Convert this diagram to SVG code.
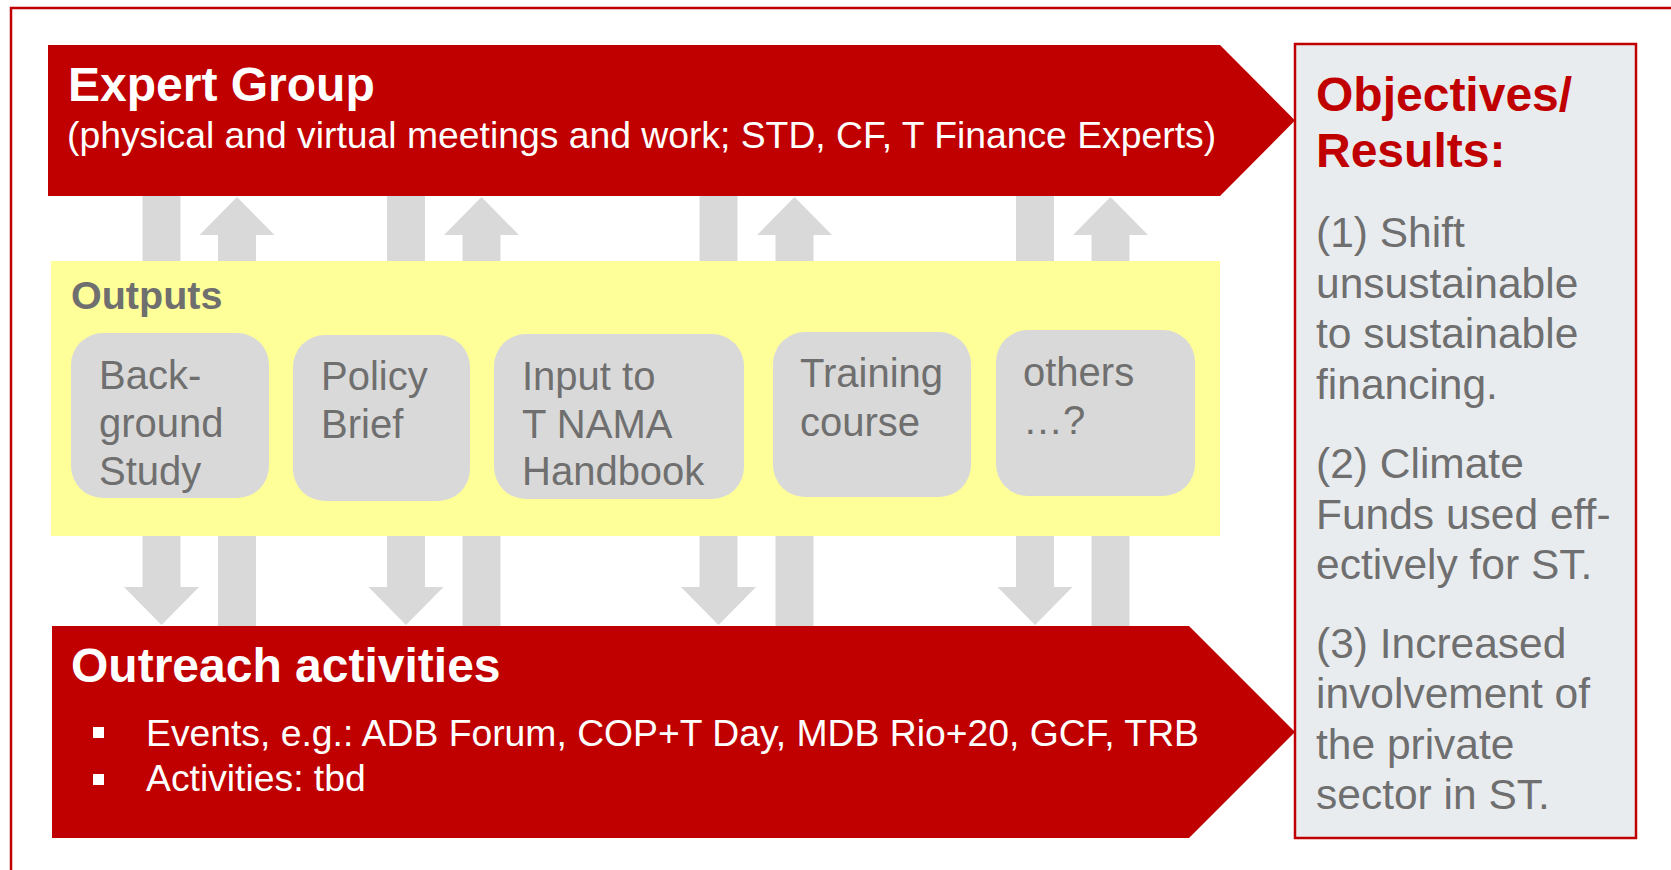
<svg xmlns="http://www.w3.org/2000/svg" width="1671" height="870" viewBox="0 0 1671 870">
<style>
.banner{fill:#C00000;}
.flow{fill:#D9D9D9;}
.card{fill:#D9D9D9;}
.wt{font-family:"Liberation Sans",Arial,sans-serif;fill:#FFFFFF;}
.gt{font-family:"Liberation Sans",Arial,sans-serif;fill:#6F6F6F;}
.rt{font-family:"Liberation Sans",Arial,sans-serif;fill:#C00000;font-weight:bold;}
.h{font-size:48px;font-weight:bold;}
.sub{font-size:37.3px;}
.box{font-size:40px;}
.obj{font-size:42.5px;}
</style>
<rect x="0" y="0" width="1671" height="870" fill="#FFFFFF"/>
<rect x="11" y="8" width="1700" height="900" fill="none" stroke="#C00000" stroke-width="2.5"/>

<g id="connectors">
  <!-- pair 1 -->
  <polygon class="flow" points="142.5,196 180.5,196 180.5,587 199,587 161.5,625 124,587 142.5,587"/>
  <polygon class="flow" points="218,626 256,626 256,235 274.5,235 237,197 199.5,235 218,235"/>
  <!-- pair 2 -->
  <polygon class="flow" points="387,196 425,196 425,587 443.5,587 406,625 368.5,587 387,587"/>
  <polygon class="flow" points="462.5,626 500.5,626 500.5,235 519,235 481.5,197 444,235 462.5,235"/>
  <!-- pair 3 -->
  <polygon class="flow" points="699.5,196 737.5,196 737.5,587 756,587 718.5,625 681,587 699.5,587"/>
  <polygon class="flow" points="775.5,626 813.5,626 813.5,235 832,235 794.5,197 757,235 775.5,235"/>
  <!-- pair 4 -->
  <polygon class="flow" points="1016,196 1054,196 1054,587 1072.5,587 1035,625 997.5,587 1016,587"/>
  <polygon class="flow" points="1091.5,626 1129.5,626 1129.5,235 1148,235 1110.5,197 1073,235 1091.5,235"/>
</g>

<g id="expert-group">
  <polygon class="banner" points="48,45 1220,45 1295,120.5 1220,196 48,196"/>
  <text class="wt h" x="68" y="101">Expert Group</text>
  <text class="wt sub" x="67" y="148">(physical and virtual meetings and work; STD, CF, T Finance Experts)</text>
</g>

<g id="outputs">
  <rect x="51" y="261" width="1169" height="275" fill="#FFFF99"/>
  <text class="gt" x="71" y="309" font-size="39.5" font-weight="bold">Outputs</text>
</g>

<g id="background-study">
  <rect class="card" x="71" y="333" width="198" height="165" rx="32" ry="32"/>
  <text class="gt box" x="99" y="389">Back-</text>
  <text class="gt box" x="99" y="437">ground</text>
  <text class="gt box" x="99" y="485">Study</text>
</g>
<g id="policy-brief">
  <rect class="card" x="293" y="335" width="177" height="166" rx="32" ry="32"/>
  <text class="gt box" x="321" y="390">Policy</text>
  <text class="gt box" x="321" y="438">Brief</text>
</g>
<g id="nama-handbook">
  <rect class="card" x="494" y="334" width="250" height="165" rx="32" ry="32"/>
  <text class="gt box" x="522" y="390">Input to</text>
  <text class="gt box" x="522" y="438">T NAMA</text>
  <text class="gt box" x="522" y="485">Handbook</text>
</g>
<g id="training-course">
  <rect class="card" x="773" y="332" width="198" height="165" rx="32" ry="32"/>
  <text class="gt box" x="800" y="387">Training</text>
  <text class="gt box" x="800" y="436">course</text>
</g>
<g id="others">
  <rect class="card" x="996" y="330" width="199" height="166" rx="32" ry="32"/>
  <text class="gt box" x="1023" y="386">others</text>
  <text class="gt box" x="1023" y="434">…?</text>
</g>

<g id="outreach-activities">
  <polygon class="banner" points="52,626 1189,626 1295,732 1189,838 52,838"/>
  <text class="wt h" x="71" y="682">Outreach activities</text>
  <rect x="93" y="727" width="11" height="11" fill="#FFFFFF"/>
  <text class="wt sub" x="146" y="746">Events, e.g.: ADB Forum, COP+T Day, MDB Rio+20, GCF, TRB</text>
  <rect x="93" y="774" width="11" height="11" fill="#FFFFFF"/>
  <text class="wt sub" x="146" y="791">Activities: tbd</text>
</g>

<g id="objectives-results">
  <rect x="1295" y="44" width="341" height="794" fill="#E9ECEF" stroke="#C00000" stroke-width="2.5"/>
  <text class="rt" x="1316" y="111" font-size="48">Objectives/</text>
  <text class="rt" x="1316" y="167" font-size="48">Results:</text>
  <text class="gt obj" x="1316" y="247">(1) Shift</text>
  <text class="gt obj" x="1316" y="298">unsustainable</text>
  <text class="gt obj" x="1316" y="348">to sustainable</text>
  <text class="gt obj" x="1316" y="399">financing.</text>
  <text class="gt obj" x="1316" y="478">(2) Climate</text>
  <text class="gt obj" x="1316" y="529">Funds used eff-</text>
  <text class="gt obj" x="1316" y="579">ectively for ST.</text>
  <text class="gt obj" x="1316" y="658">(3) Increased</text>
  <text class="gt obj" x="1316" y="708">involvement of</text>
  <text class="gt obj" x="1316" y="759">the private</text>
  <text class="gt obj" x="1316" y="809">sector in ST.</text>
</g>
</svg>
